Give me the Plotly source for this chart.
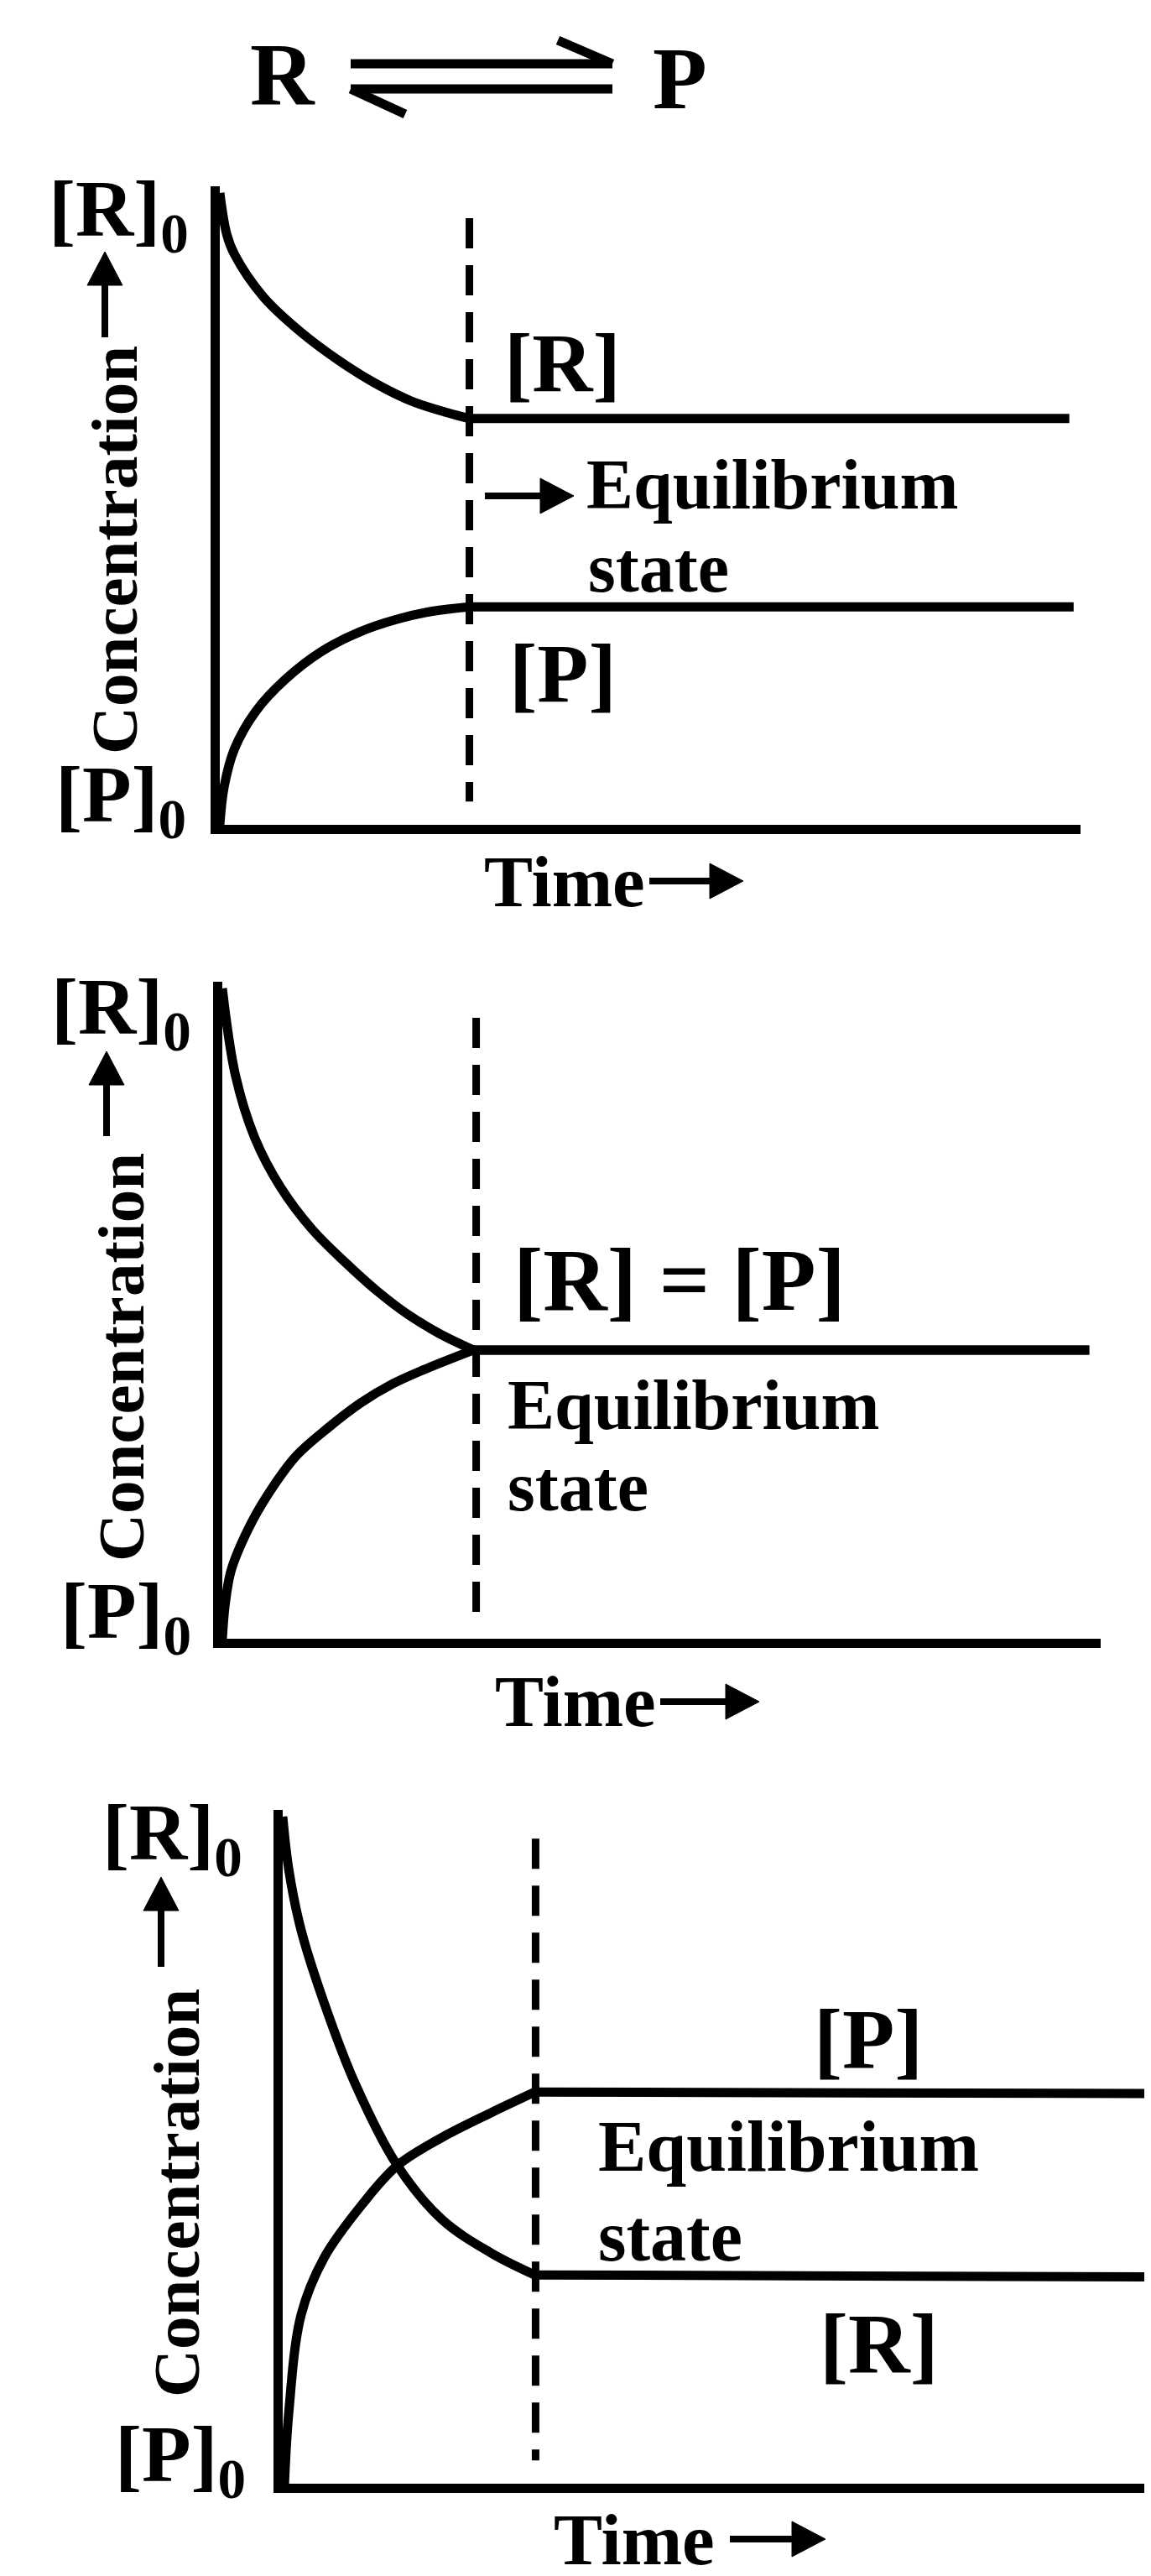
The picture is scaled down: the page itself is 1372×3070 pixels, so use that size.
import plotly.graph_objects as go

W, H = 1372, 3070

# ---------------- data ----------------
# time in arbitrary units (0..10), concentration relative to [R]0 (0..1)
# the last point of every series is the end of the flat equilibrium part
p1_t_R = [0, 0.08, 0.17, 0.51, 0.94, 1.37, 1.79, 2.22, 2.65, 2.9, 9.87]
p1_R = [1.0, 0.935, 0.903, 0.835, 0.780, 0.736, 0.700, 0.671, 0.652, 0.643, 0.643]
p1_t_P = [0, 0.05, 0.17, 0.42, 0.76, 1.19, 1.62, 2.05, 2.47, 2.9, 9.92]
p1_P = [0, 0.06, 0.12, 0.18, 0.23, 0.275, 0.305, 0.325, 0.338, 0.345, 0.345]
p1_eq_t = 2.9
p1_dash = [0.96, 0.037]

p2_t_R = [0, 0.15, 0.37, 0.66, 1.02, 1.39, 1.76, 2.12, 2.49, 2.86, 9.87]
p2_R = [1.0, 0.866, 0.770, 0.695, 0.630, 0.580, 0.535, 0.498, 0.468, 0.444, 0.444]
p2_t_P = [0, 0.03, 0.10, 0.30, 0.52, 0.84, 1.21, 1.58, 1.94, 2.30, 2.86, 9.87]
p2_P = [0, 0.05, 0.105, 0.17, 0.222, 0.281, 0.325, 0.363, 0.392, 0.414, 0.444, 0.444]
p2_eq_t = 2.89
p2_dash = [0.955, 0.037]

p3_t_R = [0, 0.07, 0.21, 0.47, 0.83, 1.31, 1.82, 2.38, 2.88, 10]
p3_R = [1.0, 0.92, 0.830, 0.722, 0.599, 0.477, 0.396, 0.346, 0.313, 0.31]
p3_t_P = [0.02, 0.07, 0.21, 0.47, 0.91, 1.31, 1.82, 2.38, 2.88, 10]
p3_P = [0.0, 0.108, 0.253, 0.338, 0.419, 0.477, 0.519, 0.556, 0.587, 0.585]
p3_eq_t = 2.89
p3_dash = [0.967, 0.035]

# ---------------- layout geometry (pixels) ----------------
FONT = "Liberation Serif, Times New Roman, serif"
YMAX = 1.01
LW = 11
AXW = 11
# (x_left, x_right, y_of_c0, y_of_c1)
panels = [
    (254, 1280, 975, 222),
    (257, 1304, 1945, 1170),
    (329, 1372, 2952, 2157),
]


def px(x, y):
    return x / W, 1 - y / H


fig = go.Figure()

datasets = [
    (p1_t_R, p1_R, p1_t_P, p1_P, p1_eq_t, p1_dash),
    (p2_t_R, p2_R, p2_t_P, p2_P, p2_eq_t, p2_dash),
    (p3_t_R, p3_R, p3_t_P, p3_P, p3_eq_t, p3_dash),
]

for i, ((xl, xr, yc0, yc1), (tR, R, tP, P, teq, dsh)) in enumerate(zip(panels, datasets)):
    n = "" if i == 0 else str(i + 1)
    xa, ya = "x" + n, "y" + n
    top = yc0 - YMAX * (yc0 - yc1)
    for (t, c, name) in [(tR, R, "[R]"), (tP, P, "[P]")]:
        # approach to equilibrium (smooth curve)
        fig.add_trace(go.Scatter(x=t[:-1], y=c[:-1], mode="lines", xaxis=xa, yaxis=ya,
                                 line=dict(color="black", width=LW, shape="spline", smoothing=1.0),
                                 name=name))
        # equilibrium (flat part)
        fig.add_trace(go.Scatter(x=t[-2:], y=c[-2:], mode="lines", xaxis=xa, yaxis=ya,
                                 line=dict(color="black", width=LW), name=name))
    fig.add_trace(go.Scatter(x=[teq, teq], y=dsh, mode="lines", xaxis=xa, yaxis=ya,
                             line=dict(color="black", width=9, dash="36px,20px"),
                             name="equilibrium"))
    axis_common = dict(showgrid=False, zeroline=False, showticklabels=False, ticks="",
                       showline=True, linecolor="black", linewidth=AXW, fixedrange=True)
    fig.layout["xaxis" + n] = dict(domain=[xl / W, min(xr / W, 1.0)], range=[0, 10],
                                   anchor=ya, **axis_common)
    fig.layout["yaxis" + n] = dict(domain=[1 - yc0 / H, 1 - top / H], range=[0, YMAX],
                                   anchor=xa, **axis_common)

annotations = []
shapes = []


def text(t, x, y, size, xanchor="left", angle=0):
    X, Y = px(x, y)
    annotations.append(dict(text="<b>%s</b>" % t, x=X, y=Y,
                            xref="paper", yref="paper", xanchor=xanchor, yanchor="middle",
                            showarrow=False, textangle=angle,
                            font=dict(family=FONT, size=size, color="black")))


def line_px(x0, y0, x1, y1, w):
    X0, Y0 = px(x0, y0)
    X1, Y1 = px(x1, y1)
    shapes.append(dict(type="line", xref="paper", yref="paper", x0=X0, y0=Y0, x1=X1, y1=Y1,
                       line=dict(color="black", width=w)))


def arrow(tip, tail, head_len=40, head_w=42, w=8):
    dx, dy = tip[0] - tail[0], tip[1] - tail[1]
    L = (dx * dx + dy * dy) ** 0.5
    ux, uy = dx / L, dy / L
    bx, by = tip[0] - ux * head_len, tip[1] - uy * head_len
    nx, ny = -uy, ux
    line_px(tail[0], tail[1], bx + ux * 4, by + uy * 4, w)
    pts = [tip, (bx + nx * head_w / 2, by + ny * head_w / 2), (bx - nx * head_w / 2, by - ny * head_w / 2)]
    path = "M " + " L ".join("%.5f,%.5f" % px(*p) for p in pts) + " Z"
    shapes.append(dict(type="path", xref="paper", yref="paper", path=path,
                       fillcolor="black", line=dict(color="black", width=1)))


# title  R <=> P
text("R", 288, 80, 106)
text("P", 768, 85, 106)
for seg in [(410, 68, 722, 68), (722, 68, 657, 40), (410, 98, 722, 98), (410, 98, 475, 128)]:
    line_px(*seg, w=11)

# axis labels: [R]0, [P]0, Concentration (centre), arrow tip, arrow tail
y_labels = [
    ((48, 248), (56, 945), (128, 648), (117, 292), (117, 394)),
    ((51, 1198), (62, 1918), (136, 1610), (119, 1245), (119, 1346)),
    ((112, 2182), (127, 2923), (202, 2606), (184, 2229), (184, 2336)),
]
for (r0, p0, conc, atip, atail) in y_labels:
    text("[R]<sub>0</sub>", r0[0], r0[1], 96)
    text("[P]<sub>0</sub>", p0[0], p0[1], 96)
    text("Concentration", conc[0], conc[1], 79, xanchor="center", angle=-90)
    arrow(atip, atail)

time_labels = [((567, 1042), (878, 1042), (766, 1042)),
               ((580, 2020), (897, 2020), (779, 2020)),
               ((650, 3018), (976, 3018), (862, 3018))]
for (tpos, tip, tail) in time_labels:
    text("Time", tpos[0], tpos[1], 87)
    arrow(tip, tail)

# panel 1 labels
text("[R]", 591, 424, 100)
text("[P]", 597, 794, 100)
arrow((676, 583), (570, 583))
text("Equilibrium", 689, 570, 84)
text("state", 691, 668, 84)

# panel 2 labels
text("[R] = [P]", 602, 1517, 106)
text("Equilibrium", 595, 1667, 84)
text("state", 595, 1763, 84)

# panel 3 labels
text("[P]", 960, 2422, 102)
text("Equilibrium", 703, 2550, 86)
text("state", 703, 2657, 86)
text("[R]", 967, 2785, 102)

fig.update_layout(width=W, height=H, margin=dict(l=0, r=0, t=0, b=0),
                  paper_bgcolor="white", plot_bgcolor="white", showlegend=False,
                  hovermode=False, annotations=annotations, shapes=shapes)

fig.write_html("out.html")
